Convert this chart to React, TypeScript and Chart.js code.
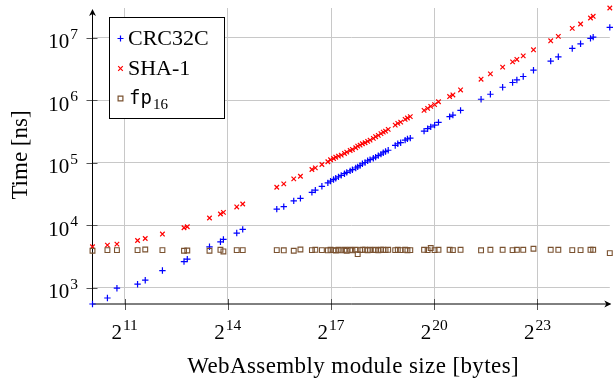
import React, { useEffect, useRef } from 'react';
import { Chart, registerables } from 'chart.js';

Chart.register(...registerables);

// WebAssembly module sizes (bytes)
const sizeBytes = [
  1072, 1448, 1754, 2658, 3103, 4386, 6776, 7240, 11325, 14121, 14991, 19610, 22118,
  43930, 50586, 61850, 70758, 89190, 95539, 109056, 122982, 129843, 137933, 144179,
  152269, 160973, 171930, 179917, 192717, 201728, 215654, 224358, 235418, 246682,
  260301, 274227, 287846, 307507, 321946, 339763, 358605, 375603, 393216, 414925,
  477901, 503296, 533402, 583578, 611328, 647475, 854630, 918528, 977306, 1056768,
  1142784, 1430528, 1527808, 1782784, 2695168, 3252224, 4162560, 5087232, 5544960,
  6303744, 7750656, 10963968, 12784640, 16928768, 20015104, 24444928, 25803776, 36071424,
];

// Times (ns)
const crc32cNs = [
  553, 690, 989, 1146, 1330, 1897, 2642, 2890, 4550, 5470, 5960, 7550, 8630,
  18200, 19950, 24660, 27040, 33740, 36730, 42270, 47970, 51170, 54190, 56790,
  59840, 63240, 67140, 70630, 74650, 77800, 82800, 86500, 90800, 96800,
  101400, 108100, 112500, 118900, 123800, 130500, 138000, 145300, 152400, 159300,
  190200, 202600, 210300, 231300, 242000, 248900, 322700, 352400, 376700, 402700,
  444900, 549500, 583100, 693400, 1042000, 1253000, 1622000, 1931000, 2125000,
  2410000, 3041000, 4245000, 4977000, 6780000, 8040000, 9820000, 10300000, 14750000,
];
const sha1Ns = [
  4550, 4845, 5025, 5740, 6180, 7275, 9184, 9530, 13150, 15240, 16180, 19730, 22030,
  40740, 46210, 55590, 61200, 78320, 83410, 94190, 104200, 112200, 117700, 123400,
  128200, 133000, 141600, 148500, 158200, 164100, 174600, 185300, 192200, 202600,
  210300, 220500, 231300, 246600, 262400, 275400, 293300, 311100, 322700, 343600,
  402700, 428600, 449800, 497500, 522400, 549500, 693400, 746400, 803900, 856900,
  950600, 1152000, 1222000, 1469000, 2183000, 2655000, 3399000, 4134000, 4519000,
  5160000, 6446000, 8981000, 10560000, 14220000, 16670000, 20800000, 22140000, 30060000,
];
const fp16Ns = [
  3930, 4030, 4030, 4030, 4120, 4030, 3930, 3970, 3930, 4070, 3830, 4030, 4030,
  4030, 4000, 3930, 4120, 4030, 4070, 4030, 4000, 4070, 4030, 3970,
  4070, 4000, 4070, 3930, 4070, 4000, 4070, 3470, 4030, 4070,
  4070, 4000, 4070, 4030, 4070, 4000, 4070, 4070, 4030, 4070,
  4030, 4070, 4030, 4070, 4000, 4030, 4070, 4030, 4340, 4030,
  4070, 4070, 4030, 4070, 4000, 4070, 4070, 4030, 4070,
  4070, 4230, 4070, 4070, 4030, 4030, 4070, 4070, 3600,
];

const seriesNames = ['CRC32C', 'SHA-1', 'fp'];
const xTickExponents = [11, 14, 17, 20, 23];
const yTickExponents = [3, 4, 5, 6, 7];
const xTitle = 'WebAssembly module size [bytes]';
const yTitle = 'Time [ns]';

const BLUE = '#0000ff';
const RED = '#ff0000';
const BROWN = '#7a5230';
const SERIF = '"Liberation Serif", "DejaVu Serif", serif';
const MONO = '"DejaVu Sans Mono", "Liberation Mono", monospace';

function drawPow(ctx: CanvasRenderingContext2D, base: string, exp: string, x: number, y: number,
  align: 'center' | 'right', baseSize: number, expSize: number, raise: number) {
  ctx.font = `${baseSize}px ${SERIF}`;
  const wb = ctx.measureText(base).width;
  ctx.font = `${expSize}px ${SERIF}`;
  const we = ctx.measureText(exp).width;
  const total = wb + 1 + we;
  const x0 = align === 'center' ? x - total / 2 : x - total;
  ctx.textAlign = 'left';
  ctx.textBaseline = 'alphabetic';
  ctx.font = `${baseSize}px ${SERIF}`;
  ctx.fillText(base, x0, y);
  ctx.font = `${expSize}px ${SERIF}`;
  ctx.fillText(exp, x0 + wb + 1, y - raise);
}

function drawMark(ctx: CanvasRenderingContext2D, kind: string, x: number, y: number) {
  ctx.save();
  ctx.lineWidth = 1.2;
  ctx.beginPath();
  if (kind === 'cross') {
    ctx.strokeStyle = BLUE;
    ctx.moveTo(x - 3, y); ctx.lineTo(x + 3, y);
    ctx.moveTo(x, y - 3); ctx.lineTo(x, y + 3);
  } else if (kind === 'x') {
    ctx.strokeStyle = RED;
    ctx.moveTo(x - 2.3, y - 2.3); ctx.lineTo(x + 2.3, y + 2.3);
    ctx.moveTo(x - 2.3, y + 2.3); ctx.lineTo(x + 2.3, y - 2.3);
  } else {
    ctx.strokeStyle = BROWN;
    ctx.rect(x - 2.4, y - 2.4, 4.8, 4.8);
  }
  ctx.stroke();
  ctx.restore();
}

const axesPlugin = {
  id: 'axesPlugin',
  beforeDatasetsDraw(chart: any) {
    const ctx: CanvasRenderingContext2D = chart.ctx;
    const xs = chart.scales.x;
    const ys = chart.scales.y;
    const { left, right, top, bottom } = chart.chartArea;
    ctx.save();
    // tick marks
    ctx.strokeStyle = '#555555';
    ctx.lineWidth = 1;
    ctx.beginPath();
    xTickExponents.forEach((e) => {
      const px = Math.round(xs.getPixelForValue(Math.pow(2, e))) + 0.5;
      ctx.moveTo(px, bottom - 5); ctx.lineTo(px, bottom + 6);
    });
    yTickExponents.forEach((e) => {
      const py = Math.round(ys.getPixelForValue(Math.pow(10, e))) + 0.5;
      ctx.moveTo(left - 6, py); ctx.lineTo(left + 5, py);
    });
    ctx.stroke();
    // axis lines
    ctx.strokeStyle = '#000';
    ctx.fillStyle = '#000';
    ctx.lineWidth = 1;
    ctx.beginPath();
    ctx.moveTo(left, bottom); ctx.lineTo(right + 0.5, bottom);
    ctx.moveTo(left, bottom); ctx.lineTo(left, top + 2);
    ctx.stroke();
    // arrow heads
    const tipX = right + 1.5;
    ctx.beginPath();
    ctx.moveTo(tipX, bottom);
    ctx.lineTo(tipX - 7, bottom - 3.5);
    ctx.lineTo(tipX - 5, bottom);
    ctx.lineTo(tipX - 7, bottom + 3.5);
    ctx.closePath();
    ctx.fill();
    const tipY = top + 1;
    ctx.beginPath();
    ctx.moveTo(left, tipY);
    ctx.lineTo(left - 3.5, tipY + 7);
    ctx.lineTo(left, tipY + 5);
    ctx.lineTo(left + 3.5, tipY + 7);
    ctx.closePath();
    ctx.fill();

    // tick labels
    ctx.fillStyle = '#000';
    xTickExponents.forEach((e) => {
      const px = xs.getPixelForValue(Math.pow(2, e));
      drawPow(ctx, '2', String(e), px, bottom + 35, 'center', 21, 15.5, 9);
    });
    yTickExponents.forEach((e) => {
      const py = ys.getPixelForValue(Math.pow(10, e));
      drawPow(ctx, '10', String(e), left - 14.5, py + 10.5, 'right', 21, 15.5, 9.5);
    });

    // axis titles
    ctx.font = `23px ${SERIF}`;
    ctx.textAlign = 'center';
    ctx.textBaseline = 'alphabetic';
    (ctx as any).letterSpacing = '0.4px';
    ctx.fillText(xTitle, (left + right) / 2 + 2, bottom + 68.5);
    (ctx as any).letterSpacing = '0px';
    ctx.save();
    ctx.translate(27, (top + bottom) / 2 - 1);
    ctx.rotate(-Math.PI / 2);
    ctx.fillText(yTitle, 0, 0);
    ctx.restore();
    ctx.restore();
  },
  afterDraw(chart: any) {
    const ctx: CanvasRenderingContext2D = chart.ctx;
    ctx.save();
    // legend box
    ctx.fillStyle = '#fff';
    ctx.fillRect(109.5, 17.5, 115, 101);
    ctx.strokeStyle = '#000';
    ctx.lineWidth = 1;
    ctx.strokeRect(109.5, 17.5, 115, 101);
    drawMark(ctx, 'cross', 120.5, 38.5);
    drawMark(ctx, 'x', 120.5, 68.5);
    drawMark(ctx, 'rect', 120.5, 98.5);
    ctx.fillStyle = '#000';
    ctx.textAlign = 'left';
    ctx.textBaseline = 'alphabetic';
    ctx.font = `22px ${SERIF}`;
    ctx.fillText(seriesNames[0], 128, 45);
    ctx.fillText(seriesNames[1], 128, 75);
    ctx.font = `19px ${MONO}`;
    ctx.fillText(seriesNames[2], 129, 104);
    const wfp = ctx.measureText(seriesNames[2]).width;
    ctx.font = `15px ${SERIF}`;
    ctx.fillText('16', 129 + wfp + 1, 108.5);
    ctx.restore();
  },
};

export default function App() {
  const canvasRef = useRef<HTMLCanvasElement | null>(null);

  useEffect(() => {
    if (!canvasRef.current) return;
    const mk = (ys: number[]) => sizeBytes.map((s, i) => ({ x: s, y: ys[i] }));
    const xMin = Math.min(...sizeBytes);
    const xMax = Math.max(...sizeBytes);
    const yMin = Math.min(...crc32cNs, ...sha1Ns, ...fp16Ns);
    const yMax = Math.max(...crc32cNs, ...sha1Ns, ...fp16Ns);
    const chart = new Chart(canvasRef.current, {
      type: 'scatter',
      data: {
        datasets: [
          {
            label: 'CRC32C', data: mk(crc32cNs), pointStyle: 'cross', pointRadius: 3.2,
            borderColor: BLUE, backgroundColor: BLUE, borderWidth: 1.2, order: 3, clip: false,
          } as any,
          {
            label: 'SHA-1', data: mk(sha1Ns), pointStyle: 'crossRot', pointRadius: 3.2,
            borderColor: RED, backgroundColor: RED, borderWidth: 1.2, order: 2, clip: false,
          } as any,
          {
            label: 'fp16', data: mk(fp16Ns), pointStyle: 'rect', pointRadius: 3.4,
            borderColor: BROWN, backgroundColor: 'rgba(0,0,0,0)', borderWidth: 1.1, order: 1, clip: false,
          } as any,
        ],
      },
      options: {
        animation: false,
        responsive: false,
        devicePixelRatio: 1,
        layout: { padding: { left: 92.5, right: 2.5, top: 8, bottom: 79 } },
        plugins: { legend: { display: false }, tooltip: { enabled: false } },
        scales: {
          x: {
            type: 'logarithmic', min: xMin, max: xMax,
            afterBuildTicks: (s: any) => { s.ticks = xTickExponents.map((e) => ({ value: Math.pow(2, e) })); },
            ticks: { display: false },
            grid: { color: '#c8c8c8', lineWidth: 1, drawTicks: false },
            border: { display: false },
          },
          y: {
            type: 'logarithmic', min: yMin, max: yMax,
            afterBuildTicks: (s: any) => { s.ticks = yTickExponents.map((e) => ({ value: Math.pow(10, e) })); },
            ticks: { display: false },
            grid: { color: '#c8c8c8', lineWidth: 1, drawTicks: false },
            border: { display: false },
          },
        },
      },
      plugins: [axesPlugin],
    });
    return () => chart.destroy();
  }, []);

  return (
    <div style={{ position: 'fixed', left: 0, top: 0, width: 615, height: 383, background: '#fff' }}>
      <canvas ref={canvasRef} width={615} height={383} style={{ display: 'block' }} />
    </div>
  );
}
